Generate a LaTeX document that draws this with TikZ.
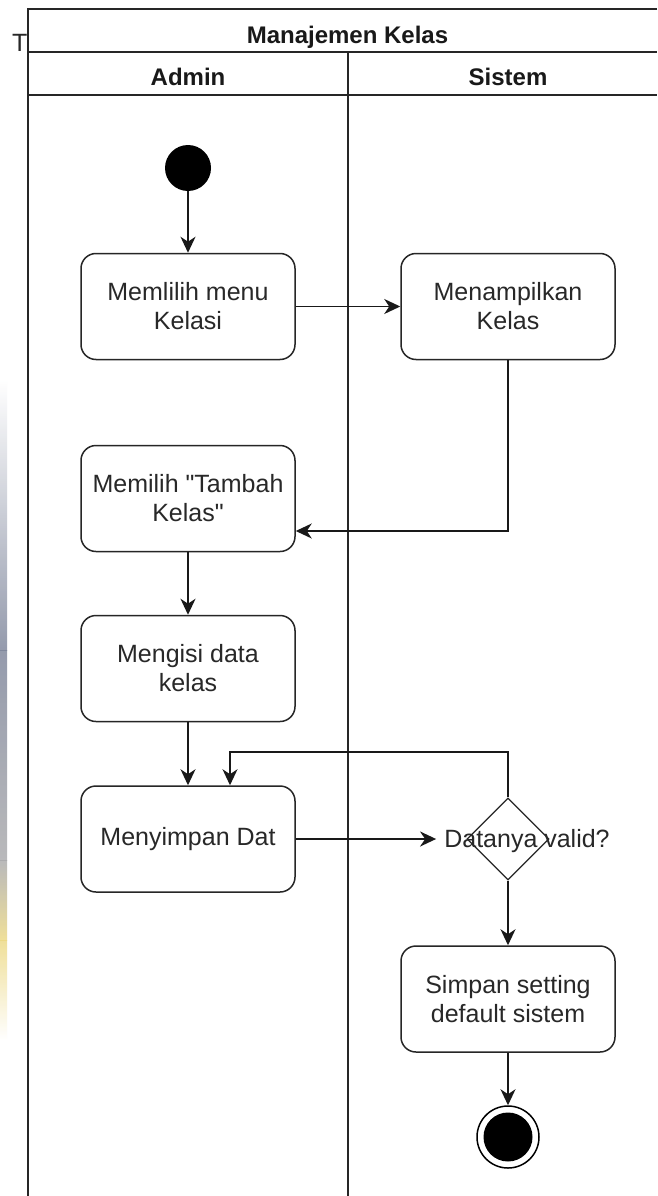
\documentclass[tikz,border=0pt]{standalone}
\usepackage{fontspec}
\setmainfont{Liberation Sans}
\usetikzlibrary{arrows.meta,shapes.geometric,calc}
\definecolor{hazeblue}{RGB}{122,130,152}
\definecolor{hazegray}{RGB}{168,168,170}
\definecolor{hazeyellow}{RGB}{236,216,128}
\definecolor{ink}{RGB}{40,40,40}
\begin{document}
\begin{tikzpicture}[x=1pt,y=-1pt,
  txt/.style={text=ink,font=\fontsize{25}{29}\selectfont},
  act/.style={txt,draw=black!85,line width=1.5pt,rounded corners=15pt,
    minimum width=214pt,minimum height=106pt,inner sep=0pt,align=center},
  flow/.style={draw=black!90,line width=1.8pt,
    -{Stealth[length=16pt,width=15pt,inset=5pt]}},
  lane/.style={draw=black!85,line width=1.8pt},
  hdr/.style={text=black!90,font=\fontsize{24}{29}\selectfont\bfseries,inner sep=0pt,anchor=base}]
\useasboundingbox (0,0) rectangle (657,1196);
\fill[white] (0,0) rectangle (657,1196);

% soft colour haze along the left edge
\shade[top color=white,bottom color=hazeblue,opacity=0.8] (0,380) rectangle (7,650);
\shade[top color=hazeblue,bottom color=hazegray,opacity=0.8] (0,650) rectangle (7,860);
\shade[top color=hazegray,bottom color=hazeyellow,opacity=0.8] (0,860) rectangle (7,940);
\shade[top color=hazeyellow,bottom color=white,opacity=0.8] (0,940) rectangle (7,1040);

% text partly hidden behind the pool
\node[txt,anchor=base west,inner sep=0pt] (hidden) at (12,52) {T};

% pool and lanes
\fill[white] (29,9) rectangle (657,1196);
\draw[lane] (657,9) -- (28,9) -- (28,1196);
\draw[lane] (28,52) -- (657,52);
\draw[lane] (28,95) -- (657,95);
\draw[lane] (348,52) -- (348,1196);
\node[hdr] (pool) at (347.5,44) {Manajemen Kelas};
\node[hdr] (admin) at (188,86) {Admin};
\node[hdr] (sistem) at (508,86) {Sistem};

% activities
\node[circle,fill=black,minimum size=46pt,inner sep=0pt] (start) at (188,168) {};
\node[act] (a1) at (188,306.5) {Memlilih menu\\Kelasi};
\node[act] (a2) at (508,306.5) {Menampilkan\\Kelas};
\node[act] (a3) at (188,498.5) {Memilih \textquotedbl Tambah\\Kelas\textquotedbl};
\node[act] (a4) at (188,668.5) {Mengisi data\\kelas};
\node[act] (a5) at (188,839) {Menyimpan Dat};
\node[diamond,draw=black!85,line width=1.3pt,aspect=1,minimum size=82pt,inner sep=0pt] (dec) at (508,839) {};
\node[txt,inner xsep=8pt,inner ysep=0pt] (declabel) at (527,841) {Datanya valid?};
\node[act] (a6) at (508,999) {Simpan setting\\default sistem};
\node[circle,draw=black,line width=1.5pt,minimum size=62pt,inner sep=0pt] (stop) at (508,1137) {};
\fill[black] (stop.center) circle (24.5);

% control flow
\draw[flow] (start) -- (a1);
\draw[flow] (a1) -- (a2);
\draw[flow] (a2.south) |- ($(a3.east)+(0,32.5)$);
\draw[flow] (a3) -- (a4);
\draw[flow] (a4) -- (a5);
\draw[flow] (a5.east) -- (a5.east -| declabel.west);
\draw[flow] (dec.north) -- ++(0,-45) -| ($(a5.north)+(42,0)$);
\draw[flow] (dec.south) -- (a6.north);
\draw[flow] (a6.south) -- (stop.north);
\end{tikzpicture}
\end{document}
